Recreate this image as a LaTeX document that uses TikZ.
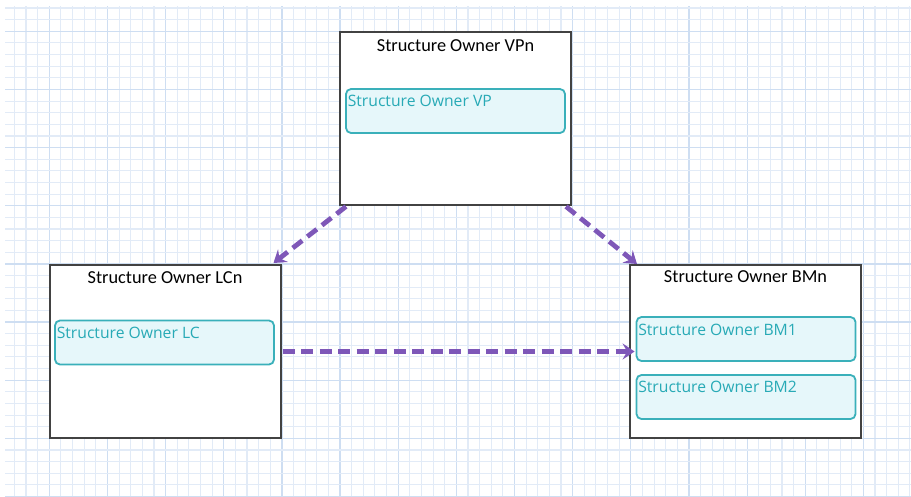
\documentclass[tikz,border=0pt]{standalone}
\usepackage{fontspec}
\setmainfont{Carlito}
\newfontfamily\innerfont{Open Sans}
\usetikzlibrary{arrows.meta}

\definecolor{gridminor}{RGB}{226,235,247}
\definecolor{gridmajor}{RGB}{206,222,242}
\definecolor{frameline}{RGB}{66,66,66}
\definecolor{tealline}{RGB}{58,176,186}
\definecolor{tealfill}{RGB}{230,247,250}
\definecolor{tealtext}{RGB}{40,170,182}
\definecolor{flowpurple}{RGB}{126,87,184}

\tikzset{
  outerbox/.style={draw=frameline, line width=2pt, fill=white,
    minimum width=231pt, minimum height=173pt, inner sep=0pt, outer sep=0pt},
  boxtitle/.style={anchor=north, font=\fontsize{18.3}{20}\selectfont, text=black, inner sep=0pt},
  innerbox/.style={draw=tealline, line width=1.8pt, fill=tealfill, rounded corners=5pt,
    minimum width=219pt, minimum height=44pt, inner sep=0pt},
  innertext/.style={anchor=north west, font=\innerfont\fontsize{15.7}{17}\selectfont,
    text=tealtext, inner sep=0pt},
  flow/.style={draw=flowpurple, line width=4.8pt, dash pattern=on 12pt off 6.5pt,
    -{Stealth[length=12pt, width=16pt, inset=4.5pt]}},
}

\begin{document}
\begin{tikzpicture}[x=1pt, y=-1pt]
  \useasboundingbox (0,0) rectangle (911,496);

  % squared paper
  \foreach \k in {-3,...,74} {
    \pgfmathsetmacro{\gx}{49.3+11.63*\k}
    \pgfmathtruncatemacro{\mj}{mod(\k+100,5)}
    \ifnum\mj=0
      \draw[gridmajor, line width=1.2pt] (\gx,6) -- (\gx,496);
    \else
      \draw[gridminor, line width=1.1pt] (\gx,6) -- (\gx,496);
    \fi
  }
  \foreach \k in {-2,...,40} {
    \pgfmathsetmacro{\gy}{31.3+11.63*\k}
    \pgfmathtruncatemacro{\mj}{mod(\k+100,5)}
    \ifnum\mj=0
      \draw[gridmajor, line width=1.2pt] (5,\gy) -- (911,\gy);
    \else
      \draw[gridminor, line width=1.1pt] (5,\gy) -- (911,\gy);
    \fi
  }

  % containers
  \node[outerbox] (vp) at (455.5,118) {};
  \node[outerbox] (lc) at (165,351.5) {};
  \node[outerbox] (bm) at (745.5,351.5) {};

  \node[boxtitle] (vpt) at ([yshift=-8pt]vp.north) {Structure Owner VPn};
  \node[boxtitle] (lct) at ([yshift=-6.5pt]lc.north) {Structure Owner LCn};
  \node[boxtitle] (bmt) at ([yshift=-5.5pt]bm.north) {Structure Owner BMn};

  % member entries
  \node[innerbox] (vpa) at (455.5,111) {};
  \node[innerbox] (lca) at (164.5,342.5) {};
  \node[innerbox] (bma) at (746,339) {};
  \node[innerbox] (bmb) at (746,397) {};

  \node[innertext] (vpat) at ([xshift=2.5pt,yshift=-7pt]vpa.north west) {Structure Owner VP};
  \node[innertext] (lcat) at ([xshift=2.5pt,yshift=-7pt]lca.north west) {Structure Owner LC};
  \node[innertext] (bmat) at ([xshift=2.5pt,yshift=-7.5pt]bma.north west) {Structure Owner BM1};
  \node[innertext] (bmbt) at ([xshift=2.5pt,yshift=-7pt]bmb.north west) {Structure Owner BM2};

  % relations
  \draw[flow] ([xshift=6pt,yshift=-2pt]vp.south west) -- ([xshift=-7pt,yshift=2pt]lc.north east);
  \draw[flow] ([xshift=-5pt,yshift=-2pt]vp.south east) -- ([xshift=7pt,yshift=1pt]bm.north west);
  \draw[flow] ([xshift=2pt]lc.east) -- ([xshift=-1pt]bma.west |- lc.east);
\end{tikzpicture}
\end{document}
